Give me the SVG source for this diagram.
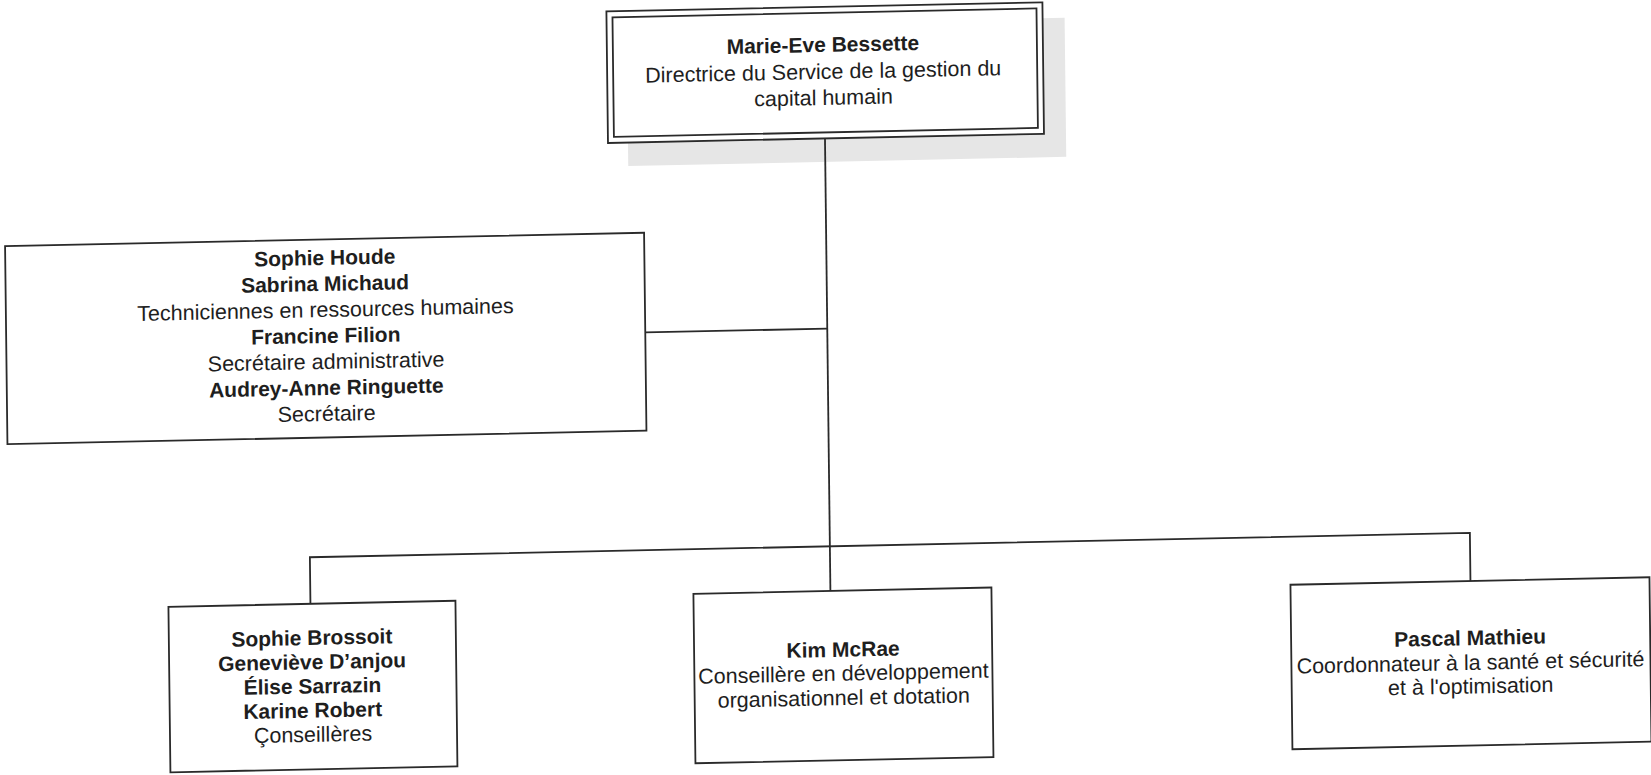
<svg xmlns="http://www.w3.org/2000/svg" width="1651" height="775" viewBox="0 0 1651 775">
  <style>
    .box { fill: #ffffff; stroke: #2a2a2a; stroke-width: 1.8; }
    .conn { fill: none; stroke: #2a2a2a; stroke-width: 1.8; }
    .shade { fill: #e6e6e6; stroke: none; }
    text { font-family: "Liberation Sans", Arial, sans-serif; font-size: 21.5px; fill: #1e1e1e; text-anchor: middle; }
    .b { font-weight: bold; font-size: 21px; }
  </style>
  <rect x="0" y="0" width="1651" height="775" fill="#ffffff"/>
  <g transform="matrix(1 -0.021 0.012 1 -4.68 17.3)">
    <rect class="shade" x="631" y="23" width="438" height="139"/>
    <g id="connectors">
      <line class="conn" x1="828" y1="138.5" x2="828" y2="591"/>
      <line class="conn" x1="646" y1="328.7" x2="828" y2="328.7"/>
      <polyline class="conn" points="308,593 308,546.4 1468,546.4 1468,594.5"/>
    </g>
    <g id="node-director">
      <rect class="box" x="611" y="7" width="436" height="131.5"/>
      <rect class="box" x="617" y="13" width="424" height="119.5"/>
      <text x="827" y="52" class="b">Marie-Eve Bessette</text>
      <text x="827" y="79">Directrice du Service de la gestion du</text>
      <text x="827" y="105">capital humain</text>
    </g>
    <g id="node-support">
      <rect class="box" x="7" y="229" width="639" height="198"/>
      <text x="326.5" y="254.5" class="b">Sophie Houde</text>
      <text x="326.5" y="280.5" class="b">Sabrina Michaud</text>
      <text x="326.5" y="306.5">Techniciennes en ressources humaines</text>
      <text x="326.5" y="332.5" class="b">Francine Filion</text>
      <text x="326.5" y="358.5">Secrétaire administrative</text>
      <text x="326.5" y="384.5" class="b">Audrey-Anne Ringuette</text>
      <text x="326.5" y="410.5">Secrétaire</text>
    </g>
    <g id="node-conseilleres">
      <rect class="box" x="166" y="593" width="287" height="165.5"/>
      <text x="309" y="634.2" class="b">Sophie Brossoit</text>
      <text x="309" y="658.4" class="b">Geneviève D’anjou</text>
      <text x="309" y="682.6" class="b">Élise Sarrazin</text>
      <text x="309" y="706.8" class="b">Karine Robert</text>
      <text x="309" y="731">Çonseillères</text>
    </g>
    <g id="node-kim">
      <rect class="box" x="691" y="591" width="298" height="169.5"/>
      <text x="840" y="657" class="b">Kim McRae</text>
      <text x="840" y="681">Conseillère en développement</text>
      <text x="840" y="705.4">organisationnel et dotation</text>
    </g>
    <g id="node-pascal">
      <rect class="box" x="1288" y="594.5" width="359" height="164.5"/>
      <text x="1467" y="658.6" class="b">Pascal Mathieu</text>
      <text x="1467" y="683.4">Coordonnateur à la santé et sécurité</text>
      <text x="1467" y="707">et à l'optimisation</text>
    </g>
  </g>
</svg>
